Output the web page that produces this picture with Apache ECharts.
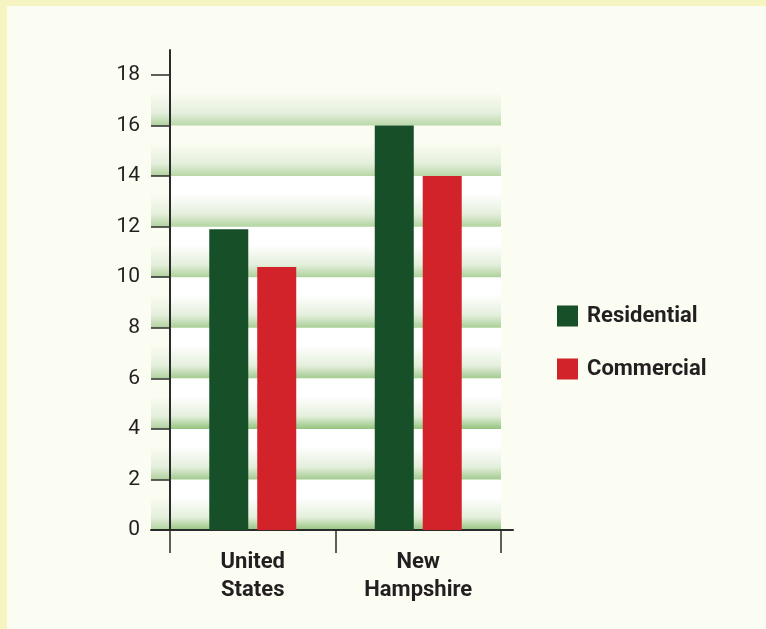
<!DOCTYPE html>
<html>
<head>
<meta charset="utf-8">
<script src="https://cdn.jsdelivr.net/npm/echarts@6.0.0/dist/echarts.min.js"></script>
<style>
html,body{margin:0;padding:0;background:#f6f4c1;}
#chart{position:absolute;left:7px;top:6px;width:759px;height:623px;background:#fbfcf2;}
</style>
</head>
<body>
<div id="chart"></div>
<script>
var categories = ['United\nStates', 'New\nHampshire'];
var residential = [11.9, 16];
var commercial = [10.4, 14];
var seriesNames = ['Residential', 'Commercial'];
var seriesColors = ['#174f28', '#d2232a'];
var yMin = 0, yMax = 18, yStep = 2;

var FONT = 'Roboto, "Liberation Sans", sans-serif';
var INK = '#231f20';
var LINE = '#2b2b2b';

function band(top, bottom) {
    return new echarts.graphic.LinearGradient(0, 0, 0, 1, [
        {offset: 0, color: top},
        {offset: 0.35, color: top},
        {offset: 0.75, color: '#e4efdc'},
        {offset: 1, color: bottom}
    ]);
}

// bands listed bottom to top
var bandMain = [
    band('#ffffff', '#94c47f'),
    band('#ffffff', '#a3cb90'),
    band('#ffffff', '#94c47f'),
    band('#ffffff', '#a3cb90'),
    band('#ffffff', '#a8ce96'),
    band('#ffffff', '#aed19c'),
    band('#ffffff', '#b3d4a1'),
    band('#fbfcf2', '#b8d7a6'),
    band('#fbfcf2', '#bad8a8')
];
var bandSide = [];
for (var i = 0; i < bandMain.length; i++) {
    bandSide.push(band('#fbfcf2', '#b0d29e'));
}

var chart = echarts.init(document.getElementById('chart'));
chart.setOption({
    animation: false,
    textStyle: {fontFamily: FONT},
    grid: [
        {left: 163, top: 69, width: 331, height: 455},
        {left: 144, top: 69, width: 19, height: 455},
        {left: 163, top: 44, width: 1, height: 480},
        {left: 144, top: 523, width: 362, height: 1}
    ],
    legend: {
        orient: 'vertical',
        left: 545,
        top: 294,
        itemWidth: 21,
        itemHeight: 21,
        itemGap: 31,
        icon: 'rect',
        data: seriesNames,
        textStyle: {
            fontFamily: FONT,
            fontSize: 22,
            fontWeight: 'bold',
            color: INK,
            padding: [0, 0, 0, 4]
        }
    },
    xAxis: [
        {
            gridIndex: 0,
            type: 'category',
            data: categories,
            axisLine: {show: true, lineStyle: {color: LINE, width: 2}},
            axisTick: {show: true, interval: 0, length: 23, lineStyle: {color: LINE, width: 1.5}},
            axisLabel: {
                interval: 0,
                margin: 18,
                fontFamily: FONT,
                fontSize: 22,
                fontWeight: 'bold',
                lineHeight: 28,
                color: INK
            }
        },
        {gridIndex: 1, type: 'value', min: 0, max: 1, show: false},
        {gridIndex: 2, type: 'value', min: 0, max: 1, show: false},
        {
            gridIndex: 3,
            type: 'value',
            min: 0,
            max: 1,
            axisLine: {show: true, lineStyle: {color: LINE, width: 2}},
            axisTick: {show: false},
            axisLabel: {show: false},
            splitLine: {show: false}
        }
    ],
    yAxis: [
        {
            gridIndex: 0,
            type: 'value',
            min: yMin,
            max: yMax,
            interval: yStep,
            axisLine: {show: true, lineStyle: {color: LINE, width: 2}},
            axisTick: {show: true, length: 19, lineStyle: {color: LINE, width: 1.5}},
            axisLabel: {margin: 30, fontFamily: FONT, fontSize: 21, color: INK},
            splitLine: {show: false},
            splitArea: {show: true, areaStyle: {color: bandMain}}
        },
        {
            gridIndex: 1,
            type: 'value',
            min: yMin,
            max: yMax,
            interval: yStep,
            axisLine: {show: false},
            axisTick: {show: false},
            axisLabel: {show: false},
            splitLine: {show: false},
            splitArea: {show: true, areaStyle: {color: bandSide}}
        },
        {
            gridIndex: 2,
            type: 'value',
            min: 0,
            max: 1,
            axisLine: {show: true, lineStyle: {color: LINE, width: 2}},
            axisTick: {show: false},
            axisLabel: {show: false},
            splitLine: {show: false}
        },
        {gridIndex: 3, type: 'value', min: 0, max: 1, show: false}
    ],
    series: [
        {
            name: seriesNames[0],
            type: 'bar',
            xAxisIndex: 0,
            yAxisIndex: 0,
            barWidth: 39,
            barGap: '23%',
            itemStyle: {color: seriesColors[0]},
            data: residential
        },
        {
            name: seriesNames[1],
            type: 'bar',
            xAxisIndex: 0,
            yAxisIndex: 0,
            barWidth: 39,
            barGap: '23%',
            itemStyle: {color: seriesColors[1]},
            data: commercial
        }
    ]
});
</script>
</body>
</html>
